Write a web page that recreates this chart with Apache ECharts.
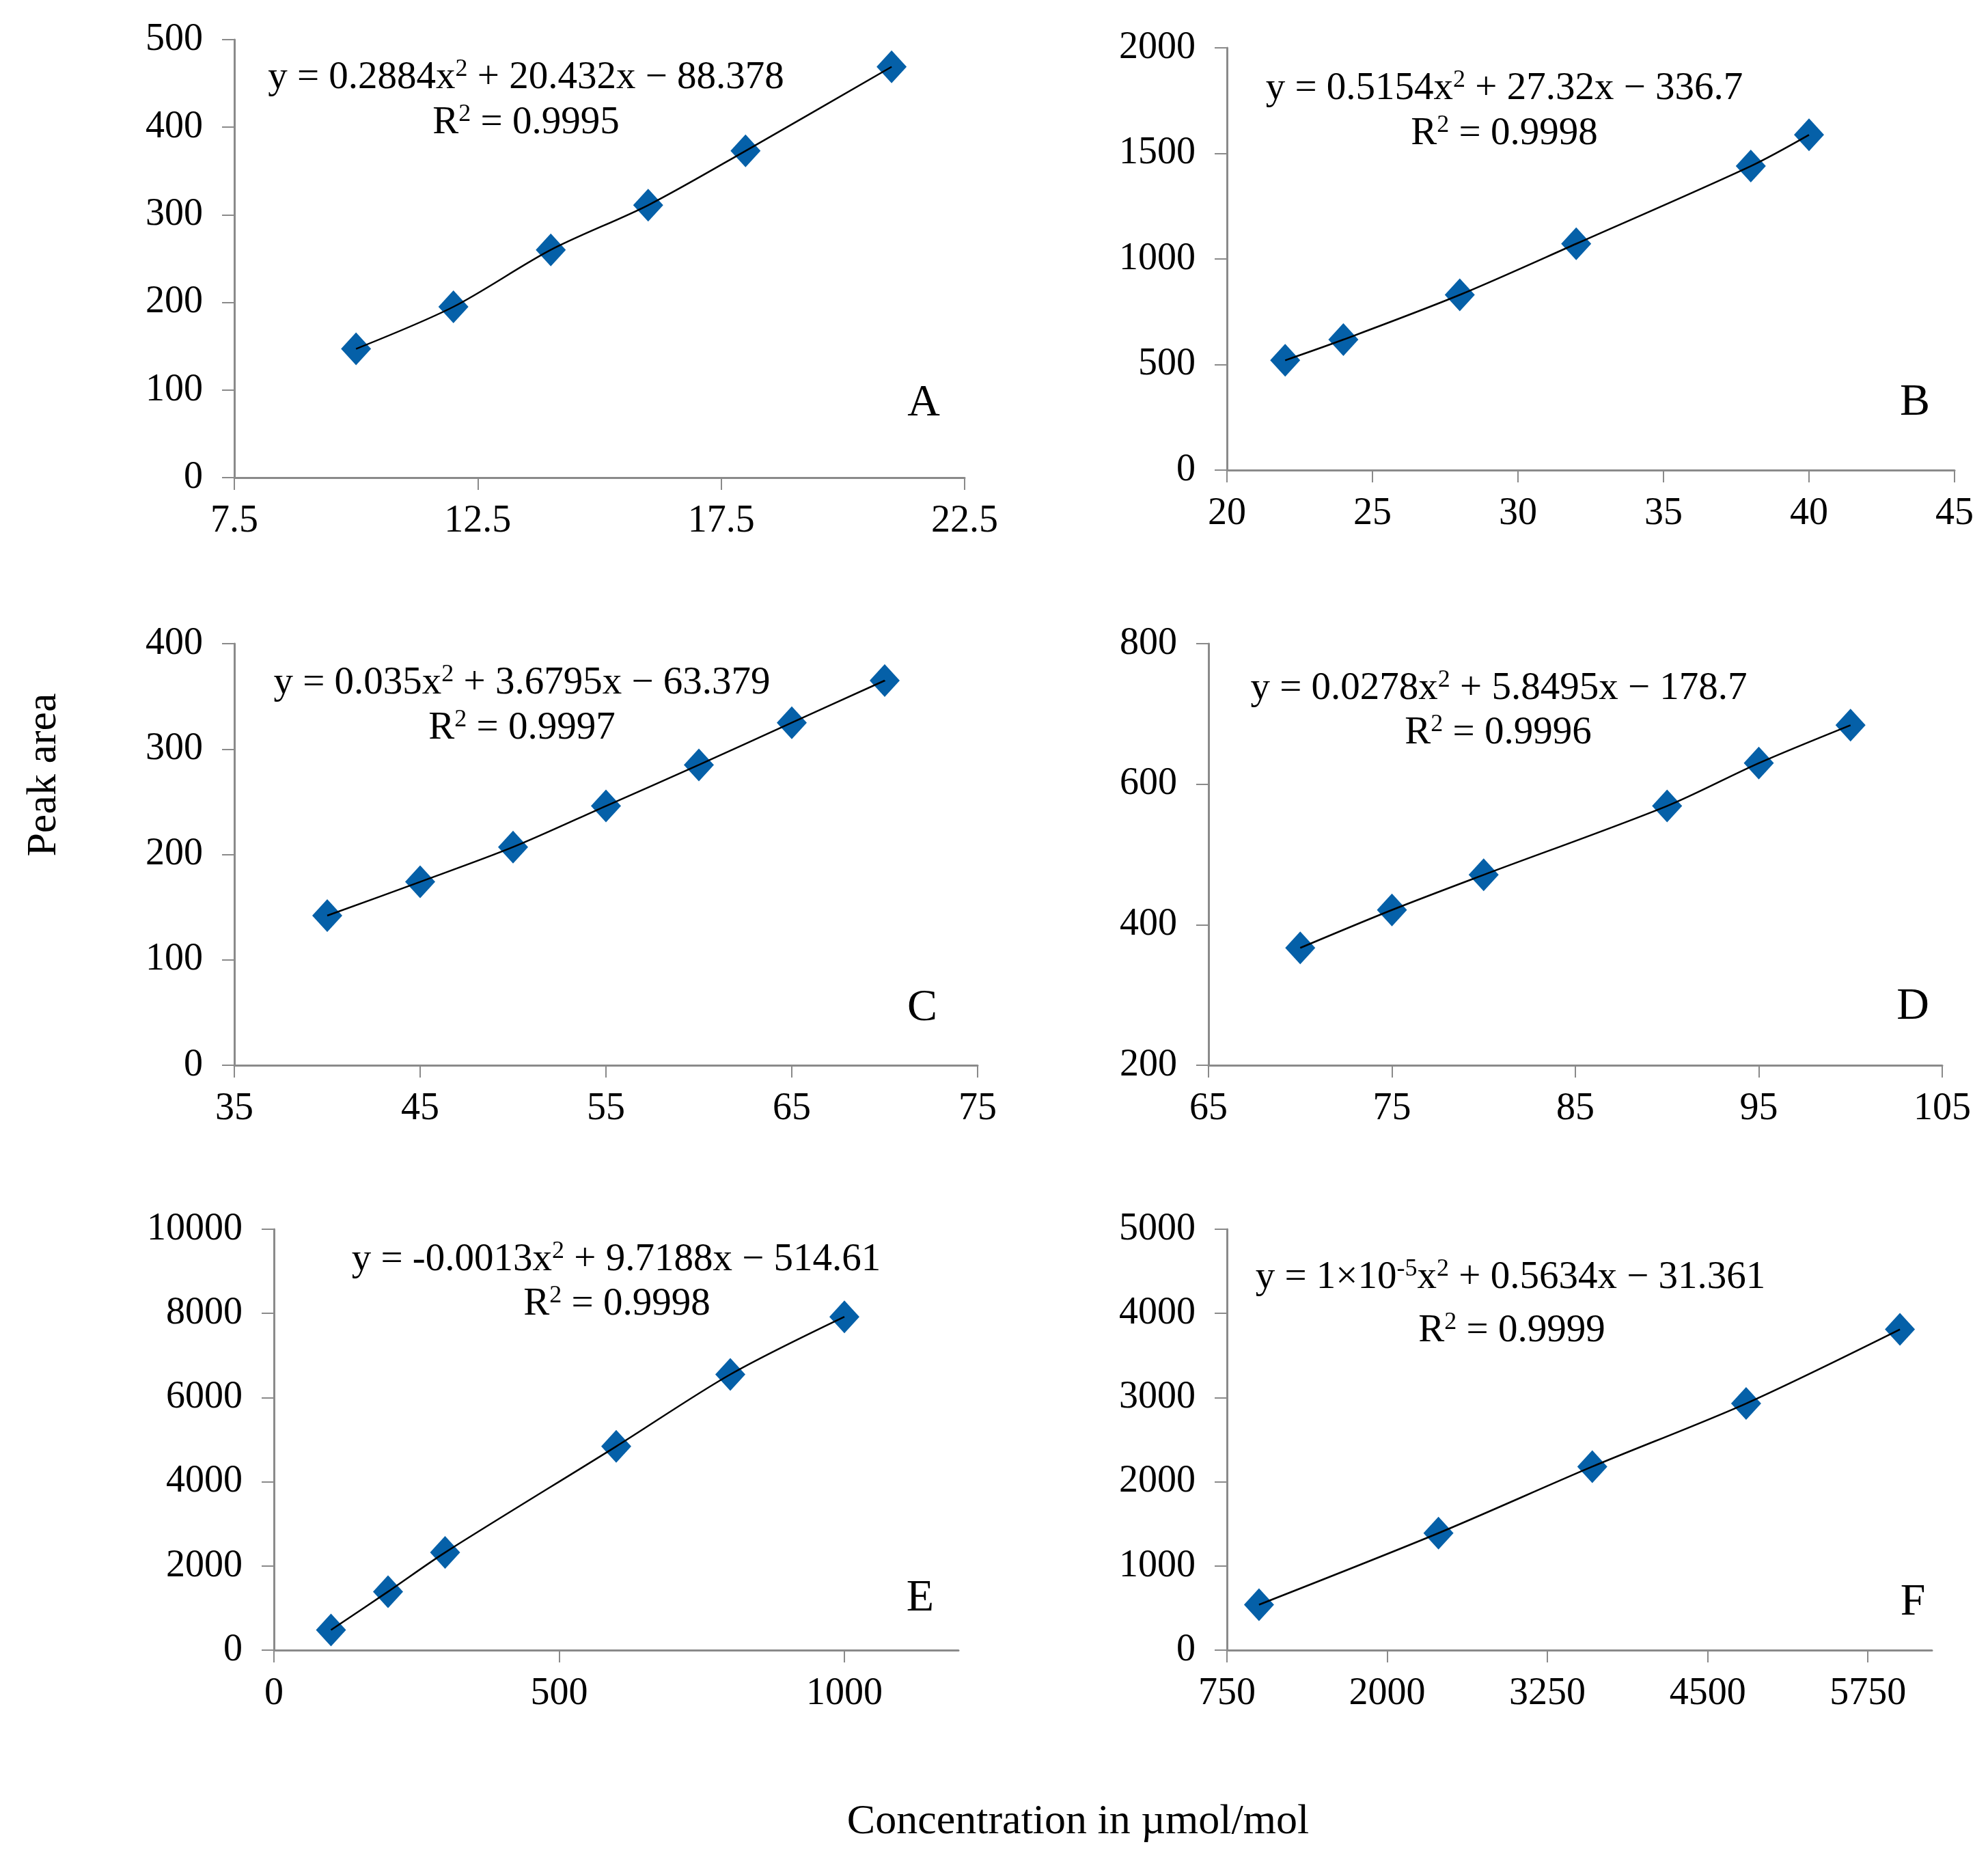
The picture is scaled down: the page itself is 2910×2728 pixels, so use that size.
<!DOCTYPE html>
<html>
<head>
<meta charset="utf-8">
<script src="https://cdn.jsdelivr.net/npm/echarts@6/dist/echarts.min.js"></script>
<style>
  html, body { margin: 0; padding: 0; background: #fff; }
  #chart { width: 2910px; height: 2728px; }
</style>
</head>
<body>
<div id="chart"></div>
<script>
// data (x = concentration, y = peak area)
var concA = [10, 12, 14, 16, 18, 21];
var areaA = [147, 195, 260, 311, 373, 469];
var concB = [22, 24, 28, 32, 38, 40];
var areaB = [520, 618, 830, 1072, 1440, 1588];
var concC = [40, 45, 50, 55, 60, 65, 70];
var areaC = [142, 174, 207, 246, 285, 325, 365];
var concD = [70, 75, 80, 90, 95, 100];
var areaD = [367, 421, 471, 569, 630, 684];
var concE = [100, 200, 300, 600, 800, 1000];
var areaE = [480, 1390, 2320, 4840, 6550, 7920];
var concF = [1000, 2400, 3600, 4800, 6000];
var areaF = [540, 1390, 2180, 2930, 3810];

// tick values on the x axes of E and F (axis runs on past the last tick)
var ticksE = [0, 500, 1000];
var ticksF = [750, 2000, 3250, 4500, 5750];

// fit equations as printed (^...^ = superscript)
var eqA = 'y = 0.2884x^2^ + 20.432x \u2212 88.378';
var eqB = 'y = 0.5154x^2^ + 27.32x \u2212 336.7';
var eqC = 'y = 0.035x^2^ + 3.6795x \u2212 63.379';
var eqD = 'y = 0.0278x^2^ + 5.8495x \u2212 178.7';
var eqE = 'y = -0.0013x^2^ + 9.7188x \u2212 514.61';
var eqF = 'y = 1\u00d710^-5^x^2^ + 0.5634x \u2212 31.361';
var r2Vals = ['0.9995', '0.9998', '0.9997', '0.9996', '0.9998', '0.9999'];
var letters = ['A', 'B', 'C', 'D', 'E', 'F'];

var FONT = "'Liberation Serif', 'Times New Roman', serif";
var AXIS_GREY = '#8a8a8a';
var MARK_BLUE = '#0560a8';

var panels = [
    { x: concA, y: areaA, xMin: 7.5, xMax: 22.5, xStep: 5, yMin: 0, yMax: 500, yStep: 100,
      grid: { left: 343, top: 58, width: 1069, height: 641 }, eq: eqA, eqPos: [770, 114], r2Pos: [770, 180], letterPos: [1352, 591] },
    { x: concB, y: areaB, xMin: 20, xMax: 45, xStep: 5, yMin: 0, yMax: 2000, yStep: 500,
      grid: { left: 1796, top: 70, width: 1065, height: 618 }, eq: eqB, eqPos: [2202, 130], r2Pos: [2202, 196], letterPos: [2803, 590] },
    { x: concC, y: areaC, xMin: 35, xMax: 75, xStep: 10, yMin: 0, yMax: 400, yStep: 100,
      grid: { left: 343, top: 942, width: 1088, height: 617 }, eq: eqC, eqPos: [764, 1000], r2Pos: [764, 1066], letterPos: [1350, 1476] },
    { x: concD, y: areaD, xMin: 65, xMax: 105, xStep: 10, yMin: 200, yMax: 800, yStep: 200,
      grid: { left: 1769, top: 942, width: 1074, height: 617 }, eq: eqD, eqPos: [2194, 1008], r2Pos: [2193, 1073], letterPos: [2800, 1474] },
    { x: concE, y: areaE, xMin: 0, xMax: 1200, xStep: 500, xTicks: ticksE, yMin: 0, yMax: 10000, yStep: 2000,
      grid: { left: 401, top: 1799, width: 1002, height: 616 }, eq: eqE, eqPos: [902, 1844], r2Pos: [903, 1909], letterPos: [1347, 2340] },
    { x: concF, y: areaF, xMin: 750, xMax: 6250, xStep: 1250, xTicks: ticksF, yMin: 0, yMax: 5000, yStep: 1000,
      grid: { left: 1796, top: 1799, width: 1032, height: 616 }, eq: eqF, eqPos: [2211, 1870], r2Pos: [2213, 1948], letterPos: [2800, 2346] }
];

// turn ^..^ markup into rich text tokens
function richText(s) {
    var parts = s.split('^');
    var out = '';
    for (var i = 0; i < parts.length; i++) {
        if (parts[i] === '') continue;
        out += (i % 2 ? '{s|' : '{n|') + parts[i] + '}';
    }
    return out;
}
var richStyles = {
    n: { fontFamily: FONT, fontSize: 57, lineHeight: 60, color: '#000' },
    s: { fontFamily: FONT, fontSize: 36, lineHeight: 36, color: '#000', verticalAlign: 'top' }
};
function plainNum(v) { return String(v); }

var grids = [], xAxes = [], yAxes = [], series = [], graphics = [];

panels.forEach(function (p, i) {
    grids.push(p.grid);
    var pts = p.x.map(function (v, k) { return [v, p.y[k]]; });
    var xa = {
        type: 'value', gridIndex: i, min: p.xMin, max: p.xMax, interval: p.xStep,
        axisLine: { show: true, onZero: false, lineStyle: { color: AXIS_GREY, width: 3 } },
        axisTick: { show: true, length: 18, lineStyle: { color: AXIS_GREY, width: 2 } },
        axisLabel: { fontFamily: FONT, fontSize: 56, color: '#000', margin: 36, formatter: plainNum,
                     showMinLabel: true, showMaxLabel: true },
        splitLine: { show: false }
    };
    if (p.xTicks) {
        xa.axisTick.customValues = p.xTicks;
        xa.axisLabel.customValues = p.xTicks;
    }
    xAxes.push(xa);
    yAxes.push({
        type: 'value', gridIndex: i, min: p.yMin, max: p.yMax, interval: p.yStep,
        axisLine: { show: true, onZero: false, lineStyle: { color: AXIS_GREY, width: 3 } },
        axisTick: { show: true, length: 18, lineStyle: { color: AXIS_GREY, width: 2 } },
        axisLabel: { fontFamily: FONT, fontSize: 56, color: '#000', margin: 46, formatter: plainNum },
        splitLine: { show: false }
    });
    series.push({
        type: 'scatter', xAxisIndex: i, yAxisIndex: i, data: pts,
        symbol: 'diamond', symbolSize: [44, 48], itemStyle: { color: MARK_BLUE, opacity: 1 }, z: 2
    });
    series.push({
        type: 'line', xAxisIndex: i, yAxisIndex: i, data: pts, smooth: 0.3,
        symbol: 'none', lineStyle: { color: '#000', width: 2.5 }, z: 3
    });
    graphics.push({
        type: 'text', x: p.eqPos[0], y: p.eqPos[1], z: 10,
        style: { text: richText(p.eq), rich: richStyles, align: 'center', verticalAlign: 'middle' }
    });
    graphics.push({
        type: 'text', x: p.r2Pos[0], y: p.r2Pos[1], z: 10,
        style: { text: richText('R^2^ = ' + r2Vals[i]), rich: richStyles, align: 'center', verticalAlign: 'middle' }
    });
    graphics.push({
        type: 'text', x: p.letterPos[0], y: p.letterPos[1], z: 10,
        style: { text: letters[i], font: '66px ' + FONT, fill: '#000', align: 'center', verticalAlign: 'middle' }
    });
});

graphics.push({
    type: 'text', x: 65, y: 1134, rotation: Math.PI / 2, z: 10,
    style: { text: 'Peak area', font: '62px ' + FONT, fill: '#000', align: 'center', verticalAlign: 'middle' }
});
graphics.push({
    type: 'text', x: 1578, y: 2667, z: 10,
    style: { text: 'Concentration in \u00b5mol/mol', font: '62px ' + FONT, fill: '#000', align: 'center', verticalAlign: 'middle' }
});

var chart = echarts.init(document.getElementById('chart'));
chart.setOption({
    backgroundColor: '#fff',
    animation: false,
    grid: grids,
    xAxis: xAxes,
    yAxis: yAxes,
    series: series,
    graphic: graphics
});
</script>
</body>
</html>
